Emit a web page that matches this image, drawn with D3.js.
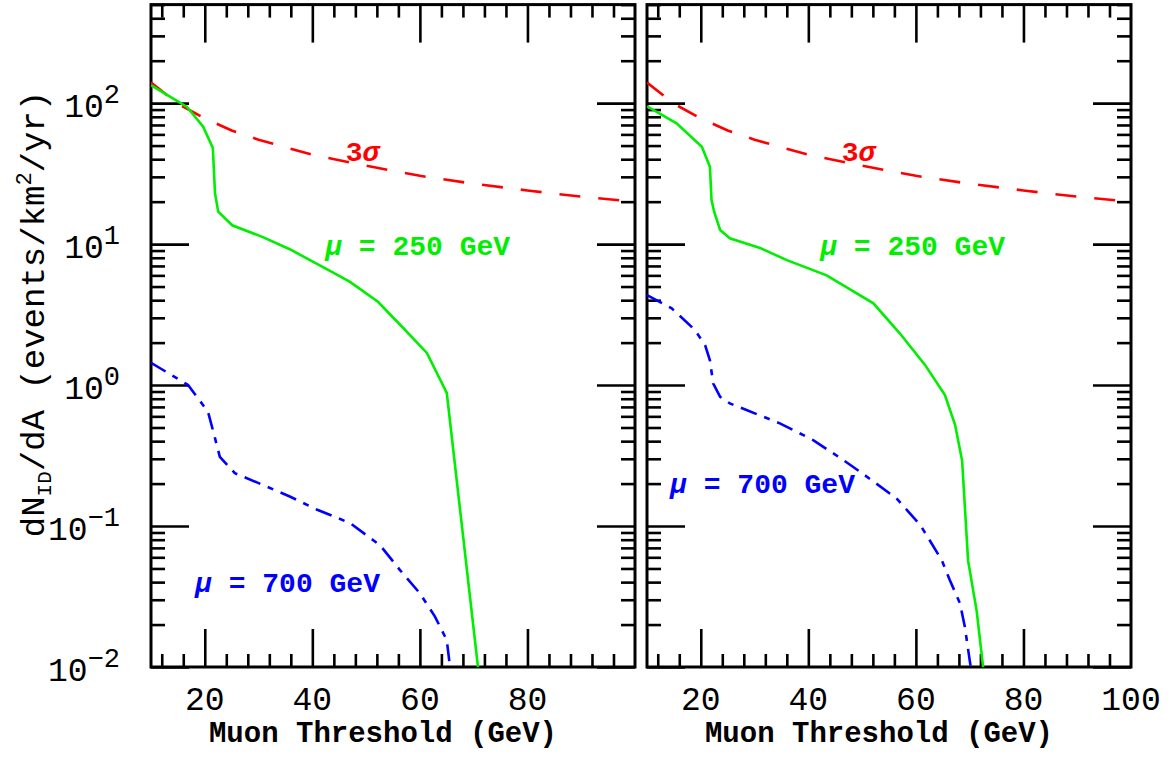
<!DOCTYPE html>
<html>
<head>
<script src="https://d3js.org/d3.v7.min.js"></script>
<style>
body { margin: 0; background: white; }
text { font-family: "Liberation Mono", "DejaVu Sans Mono", monospace; }
</style>
</head>
<body>
<div id="chart"></div>
<script>
/* ---- data ---- */
// 3 sigma line (same in both panels)
var sigmaThreshold = [10, 15, 20, 25, 30, 40, 50, 60, 70, 80, 90, 100];
var sigmaRate      = [140, 99, 78, 64, 55, 43, 36, 30.5, 26.8, 24, 21.7, 20];

// left panel, mu = 250 GeV
var leftGreenThreshold = [10, 16.7, 19.7, 21.5, 21.9, 22.5, 25.1, 30.8, 35.8, 43.8, 47, 52.2, 56.9, 61.3, 65, 70.8];
var leftGreenRate      = [134, 94, 68, 48, 23, 17, 13.6, 11.2, 9.2, 6.3, 5.4, 3.9, 2.54, 1.69, 0.88, 0.01];

// left panel, mu = 700 GeV
var leftBlueThreshold = [10, 16.9, 20.6, 21.9, 22.8, 25.6, 30.9, 35.8, 40.8, 47, 52.6, 56.3, 60, 62.8, 65, 65.6];
var leftBlueRate      = [1.44, 1.0, 0.647, 0.42, 0.31, 0.237, 0.195, 0.162, 0.131, 0.105, 0.073, 0.0487, 0.0333, 0.0228, 0.0155, 0.01];

// right panel, mu = 250 GeV
var rightGreenThreshold = [10, 15.5, 20.2, 21.7, 22.0, 22.5, 23.6, 25.4, 31, 36, 43.4, 52.1, 57, 61.7, 65.4, 67.3, 68.6, 69.7, 71.3, 72.5];
var rightGreenRate      = [95, 71.8, 49, 35.3, 20.5, 16.9, 12.6, 11, 9.4, 7.7, 6.0, 3.8, 2.33, 1.39, 0.85, 0.52, 0.29, 0.057, 0.025, 0.01];

// right panel, mu = 700 GeV
var rightBlueThreshold = [10, 14.6, 18.9, 20.8, 21.7, 22.3, 23.6, 25.4, 28.5, 34.7, 40.9, 46.5, 49.6, 56.4, 60.8, 64.8, 66.3, 68.2, 69.1, 70, 70.2];
var rightBlueRate      = [4.35, 3.5, 2.46, 1.92, 1.5, 1.03, 0.826, 0.741, 0.665, 0.535, 0.407, 0.294, 0.243, 0.157, 0.102, 0.0574, 0.0414, 0.0283, 0.0193, 0.0112, 0.01];

var xMajorTicks = [20, 40, 60, 80, 100];
var yDecades = [0.01, 0.1, 1, 10, 100];
var yExponents = ["\u22122", "\u22121", "0", "1", "2"];

// annotation anchors [threshold, rate] (left edge / baseline)
var sigmaLabelAt   = [46.2, 38.8];
var green250LeftAt = [42.4, 8.36];
var green250RightAt = [42.2, 8.36];
var blue700LeftAt  = [18.2, 0.034];
var blue700RightAt = [14.3, 0.171];

/* ---- layout ---- */
var width = 1172, height = 759;
var top_ = 4.6, bottom = 667;
var svg = d3.select("#chart").append("svg")
    .attr("width", width)
    .attr("height", height);

var y = d3.scaleLog().domain([0.01, 500]).range([bottom, top_]);

function zip(a, b) {
    return a.map(function(v, i) { return [v, b[i]]; });
}

function drawPanel(id, left, right, showYLabels, labelTicks, green, blue, greenLabel, blueLabel) {
    var x = d3.scaleLinear().domain([10, 100]).range([left, right]);
    var g = svg.append("g");

    g.append("clipPath").attr("id", "clip" + id)
        .append("rect")
        .attr("x", left).attr("y", top_)
        .attr("width", right - left).attr("height", bottom - top_);

    var minorX = d3.range(12, 100, 4).filter(function(v) { return v % 20 != 0; });
    var minorY = [];
    [0.01, 0.1, 1, 10, 100].forEach(function(d) {
        for (var k = 2; k <= 9; k++) if (d * k <= 500) minorY.push(d * k);
    });

    function tickAxis(axis, transform) {
        var a = g.append("g").attr("transform", transform).call(axis);
        a.selectAll("text").remove();
        a.select(".domain").remove();
        a.selectAll("line").attr("stroke", "black").attr("stroke-width", 2.6);
    }

    // bottom / top
    tickAxis(d3.axisBottom(x).tickValues(xMajorTicks.filter(function(v){return v < 100;})).tickSize(-38), "translate(0," + bottom + ")");
    tickAxis(d3.axisBottom(x).tickValues(minorX).tickSize(-13), "translate(0," + bottom + ")");
    tickAxis(d3.axisTop(x).tickValues(xMajorTicks.filter(function(v){return v < 100;})).tickSize(-38), "translate(0," + top_ + ")");
    tickAxis(d3.axisTop(x).tickValues(minorX).tickSize(-13), "translate(0," + top_ + ")");
    // left / right
    tickAxis(d3.axisLeft(y).tickValues(yDecades).tickSize(-38), "translate(" + left + ",0)");
    tickAxis(d3.axisLeft(y).tickValues(minorY).tickSize(-14), "translate(" + left + ",0)");
    tickAxis(d3.axisRight(y).tickValues(yDecades).tickSize(-38), "translate(" + right + ",0)");
    tickAxis(d3.axisRight(y).tickValues(minorY).tickSize(-14), "translate(" + right + ",0)");

    // frame
    g.append("rect")
        .attr("x", left).attr("y", top_)
        .attr("width", right - left).attr("height", bottom - top_)
        .attr("fill", "none")
        .attr("stroke", "black")
        .attr("stroke-width", 3);

    // x tick labels
    g.selectAll(".xlab").data(labelTicks).enter().append("text")
        .attr("x", function(d) { return x(d); })
        .attr("y", 710)
        .attr("text-anchor", "middle")
        .attr("font-size", "33px")
        .attr("fill", "black")
        .text(function(d) { return d; });

    // y tick labels
    if (showYLabels) {
        yDecades.forEach(function(d, i) {
            var t = g.append("text")
                .attr("x", 120)
                .attr("y", y(d) + 14)
                .attr("text-anchor", "end")
                .attr("font-size", "33px")
                .attr("fill", "black");
            t.append("tspan").text("10");
            t.append("tspan").attr("dy", -14).attr("font-size", "27px").text(yExponents[i]);
        });
    }

    // x title
    g.append("text")
        .attr("x", (left + right) / 2 - 10)
        .attr("y", 742)
        .attr("text-anchor", "middle")
        .attr("font-size", "29px")
        .attr("font-weight", "bold")
        .attr("fill", "black")
        .text("Muon Threshold (GeV)");

    // curves
    var line = d3.line()
        .x(function(d) { return x(d[0]); })
        .y(function(d) { return y(d[1]); });

    var curves = g.append("g").attr("clip-path", "url(#clip" + id + ")");

    curves.append("path")
        .datum(zip(sigmaThreshold, sigmaRate))
        .attr("d", line)
        .attr("fill", "none")
        .attr("stroke", "#ff0000")
        .attr("stroke-width", 2.6)
        .attr("stroke-dasharray", "21,18");

    curves.append("path")
        .datum(zip(green[0], green[1]))
        .attr("d", line)
        .attr("fill", "none")
        .attr("stroke", "#00ee00")
        .attr("stroke-width", 2.6);

    curves.append("path")
        .datum(zip(blue[0], blue[1]))
        .attr("d", line)
        .attr("fill", "none")
        .attr("stroke", "#0000ff")
        .attr("stroke-width", 2.6)
        .attr("stroke-dasharray", "17,8,6,8");

    // annotations
    var s = g.append("text")
        .attr("x", x(sigmaLabelAt[0])).attr("y", y(sigmaLabelAt[1]))
        .attr("font-size", "28px").attr("font-weight", "bold")
        .attr("fill", "#ff0000");
    s.append("tspan").text("3");
    s.append("tspan").attr("font-style", "italic").text("\u03c3");

    var gl = g.append("text")
        .attr("x", x(greenLabel[0])).attr("y", y(greenLabel[1]))
        .attr("font-size", "28px").attr("font-weight", "bold")
        .attr("fill", "#00ee00");
    gl.append("tspan").attr("font-style", "italic").text("\u03bc");
    gl.append("tspan").text(" = 250 GeV");

    var bl = g.append("text")
        .attr("x", x(blueLabel[0])).attr("y", y(blueLabel[1]))
        .attr("font-size", "28px").attr("font-weight", "bold")
        .attr("fill", "#0000ff");
    bl.append("tspan").attr("font-style", "italic").text("\u03bc");
    bl.append("tspan").text(" = 700 GeV");
}

drawPanel("L", 151, 635, true, [20, 40, 60, 80],
    [leftGreenThreshold, leftGreenRate], [leftBlueThreshold, leftBlueRate],
    green250LeftAt, blue700LeftAt);
drawPanel("R", 647, 1131, false, [20, 40, 60, 80, 100],
    [rightGreenThreshold, rightGreenRate], [rightBlueThreshold, rightBlueRate],
    green250RightAt, blue700RightAt);

// y axis title
var yt = svg.append("text")
    .attr("transform", "translate(44,314) rotate(-90)")
    .attr("text-anchor", "middle")
    .attr("font-size", "34px")
    .attr("fill", "black");
yt.append("tspan").text("dN");
yt.append("tspan").attr("dy", 7).attr("font-size", "21px").text("ID");
yt.append("tspan").attr("dy", -7).text("/dA (events/km");
yt.append("tspan").attr("dy", -13).attr("font-size", "22px").text("2");
yt.append("tspan").attr("dy", 13).text("/yr)");
</script>
</body>
</html>
